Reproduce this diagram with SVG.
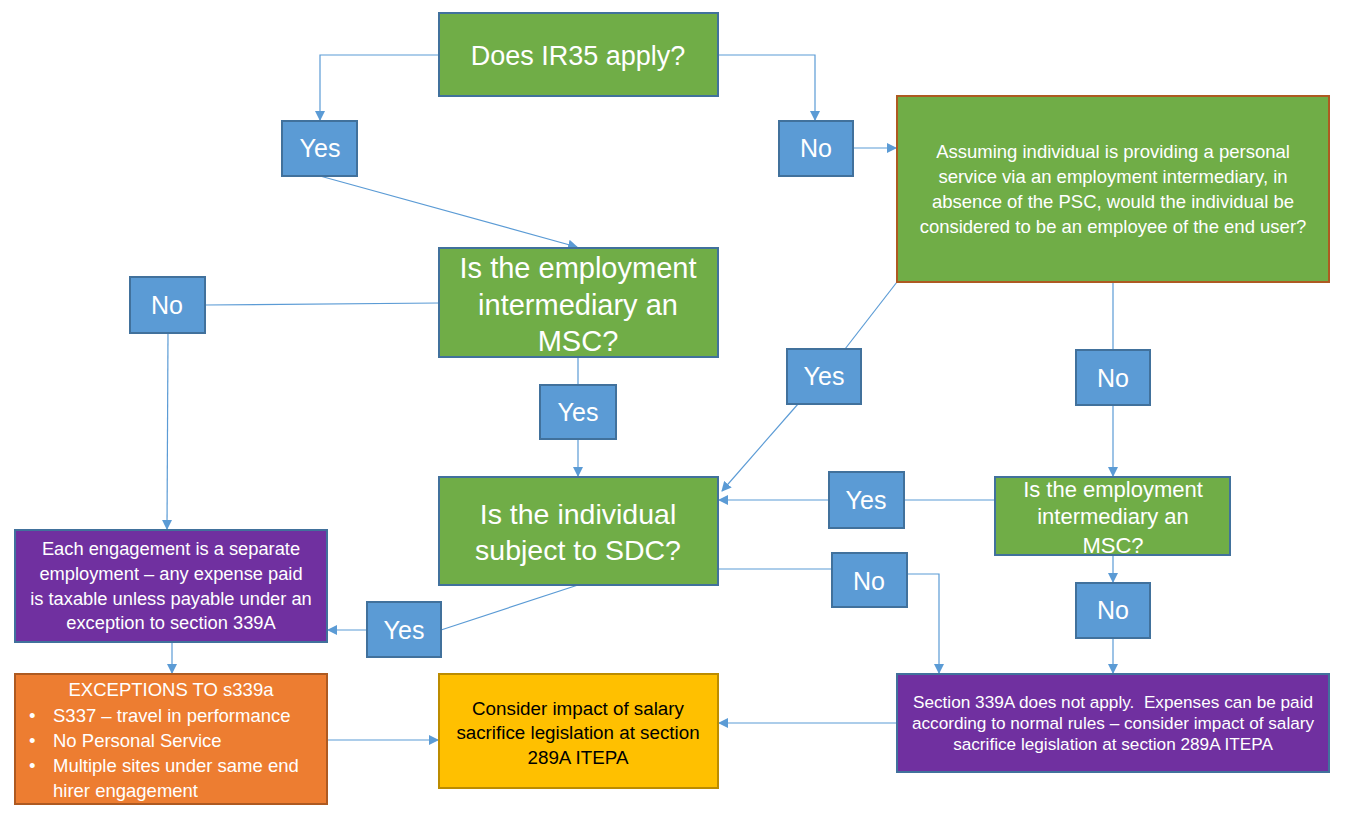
<svg xmlns="http://www.w3.org/2000/svg" width="1349" height="821" viewBox="0 0 1349 821">
<style>
text{font-family:"Liberation Sans",Arial,sans-serif;fill:#fff;text-anchor:middle}
.g{fill:#70AD47;stroke:#41719C;stroke-width:2}
.b{fill:#5B9BD5;stroke:#41719C;stroke-width:2}
.p{fill:#7030A0;stroke:#41719C;stroke-width:2}
.o{fill:#ED7D31;stroke:#AE5A21;stroke-width:2}
.y{fill:#FFC000;stroke:#BC8C00;stroke-width:2}
.yn{font-size:25px}
.c{fill:none;stroke:#5B9BD5;stroke-width:1.2}
.a{marker-end:url(#ar)}
.l{text-anchor:start}
</style>
<defs>
<marker id="ar" markerWidth="10" markerHeight="10" refX="9" refY="5" orient="auto" markerUnits="userSpaceOnUse"><path d="M0,0 L10,5 L0,10 z" fill="#5B9BD5"/></marker>
</defs>
<rect width="1349" height="821" fill="#fff"/>
<g id="connectors">
<path class="c a" d="M439,55 H320 V120"/>
<path class="c a" d="M718,55 H815 V120"/>
<path class="c a" d="M853,148 H896"/>
<path class="c a" d="M320,176 L577,247"/>
<path class="c" d="M439,303 L205,305"/>
<path class="c a" d="M168,333 L167,529"/>
<path class="c" d="M578,357 V385"/>
<path class="c a" d="M578,439 V476"/>
<path class="c" d="M897,282 L845,349"/>
<path class="c a" d="M798,404 L722,491"/>
<path class="c" d="M1113,282 V350"/>
<path class="c a" d="M1113,405 V476"/>
<path class="c" d="M994,500 H904"/>
<path class="c a" d="M829,500 H719"/>
<path class="c" d="M718,569 H832"/>
<path class="c a" d="M907,574 H939 V673"/>
<path class="c a" d="M1113,555 V582"/>
<path class="c a" d="M1113,638 V673"/>
<path class="c a" d="M897,723 H719"/>
<path class="c" d="M578,585 L441,630"/>
<path class="c a" d="M367,630 H328"/>
<path class="c a" d="M172,642 V673"/>
<path class="c a" d="M327,740 H438"/>
</g>
<g id="ir35">
<rect class="g" x="439" y="13" width="279" height="83"/>
<text x="578" y="65" font-size="27">Does IR35 apply?</text>
</g>
<g id="yes1"><rect class="b" x="282" y="121" width="75" height="55"/><text class="yn" x="320" y="157">Yes</text></g>
<g id="no1"><rect class="b" x="779" y="121" width="74" height="55"/><text class="yn" x="816" y="157">No</text></g>
<g id="assuming">
<rect x="897" y="96" width="432" height="186" fill="#70AD47" stroke="#AE5A21" stroke-width="2"/>
<text font-size="18.5"><tspan x="1113" y="158">Assuming individual is providing a personal</tspan><tspan x="1113" y="183">service via an employment intermediary, in</tspan><tspan x="1113" y="208">absence of the PSC, would the individual be</tspan><tspan x="1113" y="233">considered to be an employee of the end user?</tspan></text>
</g>
<g id="msc1">
<rect class="g" x="439" y="248" width="279" height="109"/>
<text font-size="29"><tspan x="578" y="278">Is the employment</tspan><tspan x="578" y="315">intermediary an</tspan><tspan x="578" y="351">MSC?</tspan></text>
</g>
<g id="no2"><rect class="b" x="130" y="277" width="75" height="56"/><text class="yn" x="167" y="314">No</text></g>
<g id="yes2"><rect class="b" x="540" y="385" width="76" height="54"/><text class="yn" x="578" y="421">Yes</text></g>
<g id="yes3"><rect class="b" x="787" y="349" width="74" height="55"/><text class="yn" x="824" y="385">Yes</text></g>
<g id="no3"><rect class="b" x="1076" y="350" width="74" height="55"/><text class="yn" x="1113" y="387">No</text></g>
<g id="sdc">
<rect class="g" x="439" y="477" width="279" height="108"/>
<text font-size="28.5"><tspan x="578" y="524">Is the individual</tspan><tspan x="578" y="560">subject to SDC?</tspan></text>
</g>
<g id="yes4"><rect class="b" x="829" y="472" width="75" height="56"/><text class="yn" x="866" y="509">Yes</text></g>
<g id="msc2">
<rect class="g" x="995" y="477" width="235" height="78"/>
<text font-size="22"><tspan x="1113" y="497">Is the employment</tspan><tspan x="1113" y="524">intermediary an</tspan><tspan x="1113" y="553">MSC?</tspan></text>
</g>
<g id="no4"><rect class="b" x="832" y="553" width="75" height="54"/><text class="yn" x="869" y="590">No</text></g>
<g id="no5"><rect class="b" x="1076" y="583" width="74" height="55"/><text class="yn" x="1113" y="619">No</text></g>
<g id="separate">
<rect class="p" x="15" y="530" width="312" height="112"/>
<text font-size="18.3"><tspan x="171" y="555">Each engagement is a separate</tspan><tspan x="171" y="580">employment – any expense paid</tspan><tspan x="171" y="605">is taxable unless payable under an</tspan><tspan x="171" y="629">exception to section 339A</tspan></text>
</g>
<g id="yes5"><rect class="b" x="367" y="602" width="74" height="55"/><text class="yn" x="404" y="639">Yes</text></g>
<g id="exceptions">
<rect class="o" x="15" y="674" width="312" height="130"/>
<text font-size="18.5" x="171" y="696">EXCEPTIONS TO s339a</text>
<g font-size="18.5">
<text class="l" x="29" y="722">•</text><text class="l" x="53" y="722">S337 – travel in performance</text>
<text class="l" x="29" y="747">•</text><text class="l" x="53" y="747">No Personal Service</text>
<text class="l" x="29" y="772">•</text><text class="l" x="53" y="772">Multiple sites under same end</text>
<text class="l" x="53" y="797">hirer engagement</text>
</g>
</g>
<g id="consider">
<rect class="y" x="439" y="674" width="279" height="114"/>
<text font-size="18.8" style="fill:#000"><tspan x="578" y="715">Consider impact of salary</tspan><tspan x="578" y="739">sacrifice legislation at section</tspan><tspan x="578" y="764">289A ITEPA</tspan></text>
</g>
<g id="notapply">
<rect class="p" x="897" y="674" width="432" height="98"/>
<text font-size="17.2" xml:space="preserve"><tspan x="1113" y="708">Section 339A does not apply.  Expenses can be paid</tspan><tspan x="1113" y="729">according to normal rules – consider impact of salary</tspan><tspan x="1113" y="750">sacrifice legislation at section 289A ITEPA</tspan></text>
</g>
</svg>
